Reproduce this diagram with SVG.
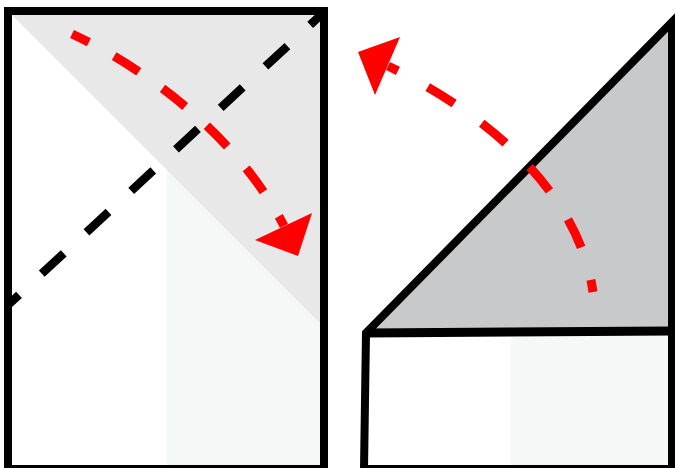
<svg xmlns="http://www.w3.org/2000/svg" width="675" height="468" viewBox="0 0 675 468">
  <defs>
    <style>
      .border{fill:none;stroke:#000;stroke-width:8;stroke-linejoin:miter;stroke-miterlimit:10}
      .fold{fill:none;stroke:#000;stroke-width:8.5;stroke-dasharray:30 31;stroke-linecap:butt}
      .move{fill:none;stroke:#ff0000;stroke-width:9;stroke-linecap:butt}
      .arrowhead{fill:#ff0000;stroke:none}
      .light{fill:#f6f7f7}
      .flap{fill:#e8e8e8}
      .back{fill:#c8c9cb}
    </style>
  </defs>
  <rect width="675" height="468" fill="#fff"/>
  <g id="left-paper">
    <rect class="light" x="167" y="167" width="154" height="300"/>
    <polygon class="flap" points="12,15 321,15 321,324"/>
    <rect class="border" x="8" y="11" width="316" height="458"/>
  </g>
  <g id="right-paper">
    <rect x="366" y="333" width="306" height="136" fill="#fff"/>
    <rect class="light" x="511" y="334" width="158" height="134"/>
    <polygon class="back" points="366,333 672,22 672,331"/>
    <path class="border" d="M364,469 L366,333 L672,22 L672,469 Z"/>
    <path class="border" style="stroke-width:9" d="M366,333 L672,331"/>
  </g>
  <g id="connectors">
    <path id="valley-fold" class="fold" stroke-dashoffset="15" d="M8,305 L322,14"/>
    <path id="fold-arrow-left" class="move" stroke-dasharray="29 29" stroke-dashoffset="18" d="M284,226 C240,140 150,70 72,34"/>
    <polygon class="arrowhead" points="255,240 312,213 298,256"/>
    <path id="unfold-arrow-right" class="move" stroke-dasharray="31 34" stroke-dashoffset="20" d="M388,66 C500,120 580,200 593,292"/>
    <polygon class="arrowhead" points="400,37 375,95 358,52"/>
  </g>
</svg>
